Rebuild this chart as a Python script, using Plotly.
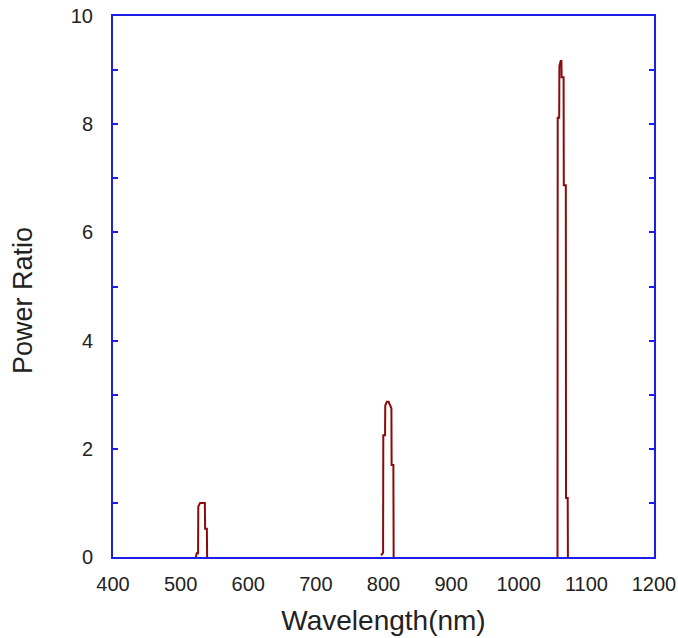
import plotly.graph_objects as go

# Wavelength (nm) and power ratio samples (None separates the peaks)
wavelength = [522.5, 523.8, 525.8, 526.1, 528.8, 535.8, 536.2, 538.8, 539.2, None,
              796.5, 799.4, 799.7, 802.3, 802.6, 805.0, 807.5, 809.5, 811.7, 812.0, 814.6, 815.0, None,
              1057.3, 1057.6, 1059.8, 1060.1, 1062.0, 1063.1, 1063.4, 1066.3, 1066.6, 1069.6, 1069.9,
              1072.4, 1072.7]
power_ratio = [0, 0.07, 0.07, 0.93, 1.0, 1.0, 0.52, 0.52, 0, None,
               0.03, 0.08, 2.25, 2.25, 2.8, 2.87, 2.87, 2.8, 2.75, 1.70, 1.70, 0, None,
               0, 8.12, 8.12, 9.08, 9.17, 9.17, 8.87, 8.87, 6.87, 6.87, 1.09,
               1.09, 0]

x_ticks = [400, 500, 600, 700, 800, 900, 1000, 1100, 1200]
y_ticks = [0, 2, 4, 6, 8, 10]

AXIS = "rgb(30,30,235)"
FONT = "Liberation Sans, Arial, sans-serif"
TXT = "#222222"

fig = go.Figure()
fig.add_trace(go.Scatter(
    x=wavelength, y=power_ratio, mode="lines",
    line=dict(color="#8B0A0A", width=2),
    hoverinfo="skip", showlegend=False, connectgaps=False,
))

fig.update_layout(
    width=678, height=638,
    margin=dict(l=113, r=24, t=16, b=81, autoexpand=False),
    paper_bgcolor="white", plot_bgcolor="white",
    font=dict(family=FONT, color=TXT),
    showlegend=False,
)
fig.update_xaxes(
    range=[400, 1200], tickvals=x_ticks, ticktext=[str(v) for v in x_ticks],
    ticks="", showgrid=False, zeroline=False, automargin=False,
    showline=True, linecolor=AXIS, linewidth=2, mirror=True,
    tickfont=dict(size=20, family=FONT, color=TXT),
    ticklabelstandoff=8,
    title=dict(text="Wavelength(nm)", font=dict(size=28, family=FONT, color=TXT), standoff=16),
)
fig.update_yaxes(
    range=[0, 10], tickvals=y_ticks, ticktext=[str(v) for v in y_ticks],
    ticks="inside", ticklen=5, tickwidth=2, tickcolor=AXIS,
    minor=dict(dtick=1, tick0=0, ticks="inside", ticklen=5, tickwidth=2, tickcolor=AXIS, showgrid=False),
    showgrid=False, zeroline=False, automargin=False,
    showline=True, linecolor=AXIS, linewidth=2, mirror="ticks",
    tickfont=dict(size=20, family=FONT, color=TXT),
    ticklabelstandoff=14,
)
fig.add_annotation(
    text="Power Ratio", textangle=-90, showarrow=False,
    xref="paper", yref="paper", x=(23 - 113) / 541, y=(557 - 301) / 541,
    xanchor="center", yanchor="middle",
    font=dict(size=27, family=FONT, color=TXT),
)

fig.write_html("out.html")
